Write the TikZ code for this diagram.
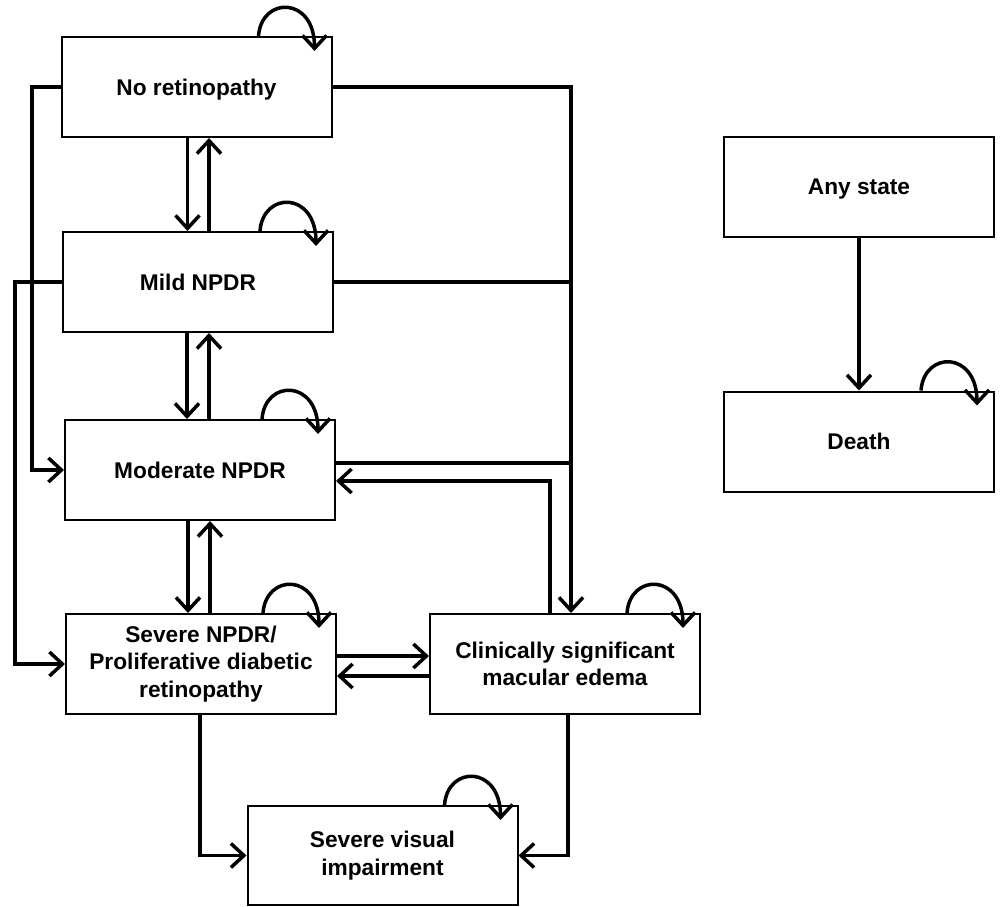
\documentclass[tikz,border=0pt]{standalone}
\usepackage{fontspec}
\setmainfont{Liberation Sans}
\usetikzlibrary{arrows.meta,calc}
\begin{document}
\begin{tikzpicture}[x=1pt,y=-1pt,
  box/.style={draw,line width=2pt,minimum width=270pt,minimum height=100pt,align=center,inner sep=2pt,
    font=\fontsize{22.7}{27.5}\selectfont\bfseries},
  nodepth/.style={text depth=0pt},
  conn/.style={line width=3.5pt},
  arr/.style={conn,-{Straight Barb[length=13pt,width=24pt,line width=3.5pt]}},
  loopy/.style={arr}]
\useasboundingbox (0,0) rectangle (1001,907);
\node[box,nodepth] (nr) at (196.5,87) {No retinopathy};
\node[box] (mild) at (198,282) {Mild NPDR};
\node[box] (mod) at (200,470) {Moderate NPDR};
\node[box] (sev) at (201,664) {Severe NPDR/\\Proliferative diabetic\\retinopathy};
\node[box] (csme) at (565,664) {Clinically significant\\macular edema};
\node[box,minimum height=99pt] (svi) at (382.5,855.5) {Severe visual\\impairment};
\node[box,nodepth] (any) at (859,186.5) {Any state};
\node[box] (death) at (859,441.5) {Death};
\coordinate (vx) at (571,0);
\coordinate (lx1) at (32,0);
\coordinate (lx2) at (15,0);
% self loops
\foreach \n in {nr,mild,mod,sev,csme,svi,death}{
  \draw[loopy] ([xshift=-74pt]\n.north east) .. controls +(3,-40) and +(0,-55) .. ([xshift=-18pt,yshift=-15pt]\n.north east);
}
% vertical pairs
\draw[arr] ([xshift=-9pt]nr.south) -- ([xshift=-9pt]nr.south |- mild.north);
\draw[arr] ([xshift=11pt]mild.north) -- ([xshift=11pt]mild.north |- nr.south);
\draw[arr] ([xshift=-11pt]mild.south) -- ([xshift=-11pt]mild.south |- mod.north);
\draw[arr] ([xshift=9pt]mod.north) -- ([xshift=9pt]mod.north |- mild.south);
\draw[arr] ([xshift=-12pt]mod.south) -- ([xshift=-12pt]mod.south |- sev.north);
\draw[arr] ([xshift=9pt]sev.north) -- ([xshift=9pt]sev.north |- mod.south);
% left routing
\draw[arr] (nr.west) -- (nr.west -| lx1) |- (mod.west);
\draw[arr] (mild.west) -- (mild.west -| lx2) |- (sev.west);
% right routing
\draw[arr] (nr.east) -| ([xshift=6pt]csme.north);
\draw[conn] (mild.east) -- (mild.east -| vx);
\draw[conn] ([yshift=7pt]mod.east) -- ([yshift=7pt]mod.east -| vx);
\draw[arr] ([xshift=-15pt]csme.north) |- ([yshift=-11pt]mod.east);
% severe <-> csme
\draw[arr] ([yshift=8pt]sev.east) -- ([yshift=8pt]sev.east -| csme.west);
\draw[arr] ([yshift=-12pt]csme.west) -- ([yshift=-12pt]csme.west -| sev.east);
% to SVI
\draw[arr] ([xshift=-1pt]sev.south) |- (svi.west);
\draw[arr] ([xshift=3pt]csme.south) |- (svi.east);
% death
\draw[arr] (any) -- (death);
\end{tikzpicture}
\end{document}
